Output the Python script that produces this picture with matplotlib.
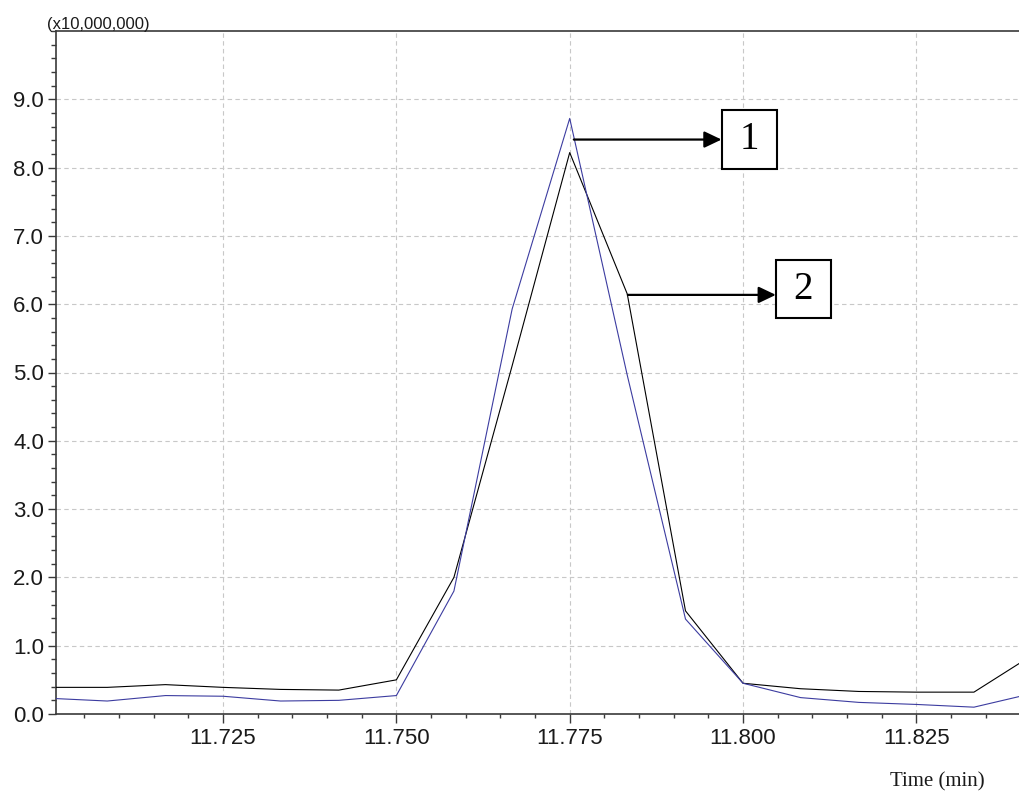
import matplotlib
matplotlib.use("Agg")
import matplotlib.pyplot as plt
from matplotlib.ticker import MultipleLocator, FixedLocator, FormatStrFormatter
from matplotlib.patches import Rectangle, FancyArrowPatch

# ---- data (intensity in units of 10,000,000) ----
time_min = [11.7000, 11.7083, 11.7167, 11.7250, 11.7333, 11.7417, 11.7500, 11.7583,
            11.7667, 11.7750, 11.7833, 11.7917, 11.8000, 11.8083, 11.8167, 11.8250,
            11.8333, 11.8417]
series_1 = [0.23, 0.19, 0.27, 0.26, 0.19, 0.20, 0.27, 1.80,
            5.93, 8.72, 4.96, 1.39, 0.45, 0.24, 0.17, 0.14,
            0.10, 0.30]
series_2 = [0.39, 0.39, 0.43, 0.39, 0.36, 0.35, 0.50, 2.00,
            5.10, 8.22, 6.15, 1.51, 0.45, 0.37, 0.33, 0.32,
            0.32, 0.86]
x_ticks = [11.725, 11.750, 11.775, 11.800, 11.825]
y_ticks = [0, 1, 2, 3, 4, 5, 6, 7, 8, 9]
labels = ["1", "2"]

W, H = 1019, 793
fig = plt.figure(figsize=(W / 100, H / 100), dpi=100)
ax = fig.add_axes([56 / W, 79 / H, 1 - 56 / W, 683 / H])

spine_c = "#3a3a3a"
ax.plot(time_min, series_2, color="black", lw=0.8, zorder=3)
ax.plot(time_min, series_1, color="#3c3ca0", lw=0.8, zorder=3)

ax.set_xlim(11.70091, 11.8398)
ax.set_ylim(0, 10)

ax.xaxis.set_major_locator(FixedLocator(x_ticks))
ax.xaxis.set_minor_locator(MultipleLocator(0.005))
ax.yaxis.set_major_locator(FixedLocator(y_ticks))
ax.yaxis.set_minor_locator(MultipleLocator(0.2))
ax.xaxis.set_major_formatter(FormatStrFormatter("%.3f"))
ax.yaxis.set_major_formatter(FormatStrFormatter("%.1f"))

for lab in ax.get_xticklabels() + ax.get_yticklabels():
    lab.set_fontfamily("Liberation Sans")
    lab.set_fontsize(16)
    lab.set_color("#1a1a1a")

ax.tick_params(axis="both", which="major", direction="out", color=spine_c, width=1.0)
ax.tick_params(axis="x", which="major", length=6.5, pad=3.6)
ax.tick_params(axis="y", which="major", length=6, pad=2.5)
ax.tick_params(axis="x", which="minor", length=3, color=spine_c, width=1.0)
ax.tick_params(axis="y", which="minor", length=3.6, color=spine_c, width=1.0)

ax.spines["right"].set_visible(False)
for s in ["left", "bottom", "top"]:
    ax.spines[s].set_color(spine_c)
    ax.spines[s].set_linewidth(1.2)

ax.grid(True, which="major", color="#c8c8c8", linestyle=(0, (4, 3)), linewidth=0.8)
ax.set_axisbelow(True)

# ---- annotations (pixel -> data helpers) ----
def px_x(px):
    return 11.725 + (px - 223.3) / 173.3 * 0.025

def px_y(py):
    return (714 - py) / 68.33

boxes = [
    (721.7, 776.7, 110.0, 168.3, 574.0, 139.3),
    (776.0, 830.7, 260.0, 318.3, 628.0, 294.7),
]
for lab, (x0, x1, y0, y1, ax0, ay) in zip(labels, boxes):
    rect = Rectangle((px_x(x0), px_y(y1)), px_x(x1) - px_x(x0), px_y(y0) - px_y(y1),
                     facecolor="white", edgecolor="black", linewidth=1.5, zorder=5)
    ax.add_patch(rect)
    ax.text((px_x(x0) + px_x(x1)) / 2, (px_y(y0) + px_y(y1)) / 2, lab,
            ha="center", va="center", fontsize=28, family="Liberation Serif",
            color="black", zorder=6)
    arr = FancyArrowPatch((px_x(ax0), px_y(ay)), (px_x(x0), px_y(ay)),
                          arrowstyle="-|>,head_length=10.5,head_width=5",
                          mutation_scale=1, color="black", linewidth=1.6,
                          shrinkA=0, shrinkB=0, zorder=5)
    ax.add_patch(arr)

fig.text(47 / W, (H - 29) / H, "(x10,000,000)", ha="left", va="baseline",
         fontsize=12, family="Liberation Sans", color="#1a1a1a")
fig.text(890 / W, (H - 786) / H, "Time (min)", ha="left", va="baseline",
         fontsize=15, family="Liberation Serif", color="#1a1a1a")

fig.savefig("out.png", dpi=100)
